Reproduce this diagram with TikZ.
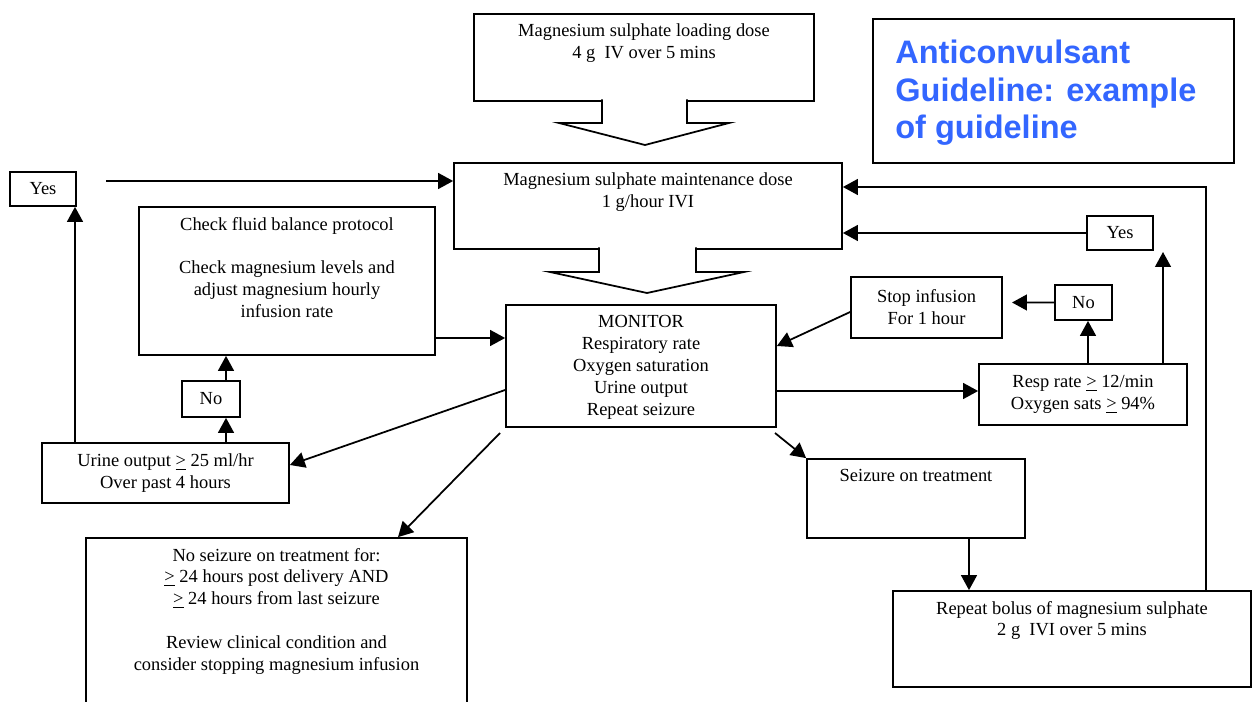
\documentclass[tikz,border=0pt]{standalone}
\usepackage{fontspec}
\setmainfont{Liberation Serif}
\newfontfamily\titlefont{Liberation Sans}
\usepackage{xcolor}
\usetikzlibrary{arrows.meta,positioning,fit}
\definecolor{titleblue}{RGB}{51,102,255}

\begin{document}
\begin{tikzpicture}[x=0.02cm,y=-0.02cm,>={Triangle[length=8.5pt,width=9pt]},
  font=\fontsize{10.5}{12.5}\selectfont,
  box/.style={draw,line width=1pt,inner sep=0pt,align=center},
  lbl/.style={anchor=north,inner sep=0pt,yshift=-6pt,align=center},
  ctr/.style={anchor=center,inner sep=0pt,align=center},
  arr/.style={->,line width=1pt}]

  \useasboundingbox (0,0) rectangle (1253,702);

  %% ---------------------------------------------------------------
  %% TOP: loading dose -> maintenance dose, title
  %% ---------------------------------------------------------------
  \node[box,fit={(474,14)(814,101)},
    label={[lbl]north:{Magnesium sulphate loading dose\\4 g\ \ IV over 5 mins}}] (load) {};
  % block arrow under the loading box
  \draw[line width=1pt,fill=white] (602,99.5) -- (602,123) -- (559,123) -- (645,145)
    -- (729,123) -- (687,123) -- (687,99.5);

  \node[box,fit={(454,163)(842,249)},
    label={[lbl]north:{Magnesium sulphate maintenance dose\\1 g/hour IVI}}] (maint) {};
  % block arrow under the maintenance box
  \draw[line width=1pt,fill=white] (599,247.5) -- (599,272) -- (550,272) -- (647,293)
    -- (744,272) -- (696,272) -- (696,247.5);

  \node[box,fit={(873,19)(1234,163)}] (title) {};
  \node[anchor=north west,inner sep=0pt,align=left,text=titleblue,
    font=\titlefont\bfseries\fontsize{18.5}{21.3}\selectfont] (ttl) at (895,40)
    {Anticonvulsant\\Guideline: example\\of guideline};

  %% ---------------------------------------------------------------
  %% LEFT: urine output branch
  %% ---------------------------------------------------------------
  \node[box,fit={(10,172)(76,206)},label={[ctr]center:{Yes}}] (yesL) {};
  \node[box,fit={(139,207)(435,355)},
    label={[lbl]north:{Check fluid balance protocol\\[12.5pt]Check magnesium levels and\\adjust magnesium hourly\\infusion rate}}] (check) {};
  \node[box,fit={(182,381)(240,417)},label={[ctr]center:{No}}] (noL) {};
  \node[box,fit={(42,443)(289,503)},
    label={[ctr]center:{Urine output \underline{>} 25 ml/hr\\Over past 4 hours}}] (urine) {};

  %% ---------------------------------------------------------------
  %% CENTRE: monitor
  %% ---------------------------------------------------------------
  \node[box,fit={(506,305)(776,427)},
    label={[lbl]north:{MONITOR\\Respiratory rate\\Oxygen saturation\\Urine output\\Repeat seizure}}] (mon) {};
  \node[box,fit={(86,538)(467,712)},
    label={[lbl]north:{No seizure on treatment for:\\\underline{>} 24 hours post delivery AND\\\underline{>} 24 hours from last seizure\\[12.5pt]Review clinical condition and\\consider stopping magnesium infusion}}] (noSz) {};

  %% ---------------------------------------------------------------
  %% RIGHT: respiration branch, seizure branch
  %% ---------------------------------------------------------------
  \node[box,fit={(851,277)(1002,338)},
    label={[ctr]center:{Stop infusion\\For 1 hour}}] (stop) {};
  \node[box,fit={(1055,285)(1112,320)},label={[ctr]center:{No}}] (noR) {};
  \node[box,fit={(1087,216)(1153,250)},label={[ctr]center:{Yes}}] (yesR) {};
  \node[box,fit={(979,364)(1187,425)},
    label={[ctr]center:{Resp rate \underline{>} 12/min\\Oxygen sats \underline{>} 94\%}}] (resp) {};
  \node[box,fit={(807,459)(1025,538)},
    label={[lbl]north:{Seizure on treatment}}] (seiz) {};
  \node[box,fit={(893,591)(1251,687)},
    label={[lbl]north:{Repeat bolus of magnesium sulphate\\2 g\ \ IVI over 5 mins}}] (rep) {};

  % loose arrow ends
  \coordinate (yesOut) at (106,181);
  \coordinate (stopGap) at (1012,302.5);
  \coordinate (respUp) at (1163,252);
  \coordinate (monSW) at (500,433);
  \coordinate (monSE) at (775,433);

  %% ---------------------------------------------------------------
  %% connectors
  %% ---------------------------------------------------------------
  \draw[arr] (yesOut) -- (maint.west |- yesOut);
  \draw[arr] (urine.north -| 75,0) -- (yesL.south -| 75,0);
  \draw[arr] (urine.north -| 226,0) -- (noL.south -| 226,0);
  \draw[arr] (noL.north -| 226,0) -- (check.south -| 226,0);
  \draw[arr] (check.east |- 0,338) -- (mon.west |- 0,338);
  \draw[arr] (mon.west |- 0,390) -- (urine.east |- 0,465);
  \draw[arr] (monSW) -- (noSz.north -| 398,0);
  \draw[arr] (stop.west |- 0,312) -- (mon.east |- 0,346);
  \draw[arr] (mon.east |- 0,391) -- (resp.west |- 0,391);
  \draw[arr] (resp.north -| 1088,0) -- (noR.south -| 1088,0);
  \draw[arr] (noR.west) -- (stopGap);
  \draw[arr] (resp.north -| 1163,0) -- (respUp);
  \draw[arr] (yesR.west) -- (maint.east |- yesR.west);
  \draw[arr] (monSE) -- (seiz.north west);
  \draw[arr] (seiz.south -| 969,0) -- (rep.north -| 969,0);
  \draw[arr] (rep.north -| 1206,0) |- (maint.east |- 0,187);

\end{tikzpicture}
\end{document}
